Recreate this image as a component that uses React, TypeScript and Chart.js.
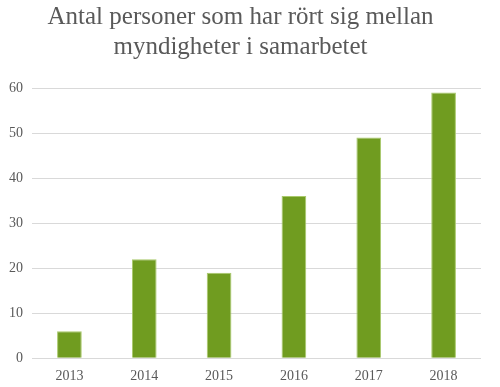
import React, { useEffect, useRef } from "react";
import { Chart, registerables } from "chart.js";

Chart.register(...registerables);

const titleLines = ["Antal personer som har rört sig mellan", "myndigheter i samarbetet"];
const years = ["2013", "2014", "2015", "2016", "2017", "2018"];
const persons = [6, 22, 19, 36, 49, 59];

const FONT = "'Liberation Serif', 'DejaVu Serif', serif";

export default function App() {
  const ref = useRef<HTMLCanvasElement>(null);
  useEffect(() => {
    document.body.style.margin = "0";
    document.body.style.overflow = "hidden";
    const chart = new Chart(ref.current!, {
      type: "bar",
      data: {
        labels: years,
        datasets: [
          {
            data: persons,
            backgroundColor: "#709c20",
            borderColor: "#a9c96a",
            borderWidth: 1,
            barPercentage: 0.33,
            categoryPercentage: 1,
          },
        ],
      },
      options: {
        animation: false,
        responsive: false,
        layout: { padding: { left: 0, right: 19, top: 0, bottom: 0 } },
        plugins: {
          legend: { display: false },
          tooltip: { enabled: false },
          title: {
            display: true,
            text: titleLines,
            color: "#595959",
            font: { family: FONT, size: 25, weight: "normal" },
            padding: { top: 2, bottom: 26 },
            lineHeight: 1.1,
          },
        },
        scales: {
          x: {
            grid: { display: false, drawTicks: false },
            border: { display: false },
            ticks: { color: "#595959", font: { family: FONT, size: 14 }, padding: 10 },
          },
          y: {
            min: 0,
            max: 60,
            ticks: { stepSize: 10, color: "#595959", font: { family: FONT, size: 14 }, padding: 9 },
            grid: { color: "#d9d9d9", lineWidth: 1, drawTicks: false },
            border: { display: false },
          },
        },
      },
    });
    return () => chart.destroy();
  }, []);
  return (
    <div style={{ width: 500, height: 387, overflow: "hidden" }}>
      <canvas ref={ref} width={500} height={395} style={{ display: "block" }} />
    </div>
  );
}
